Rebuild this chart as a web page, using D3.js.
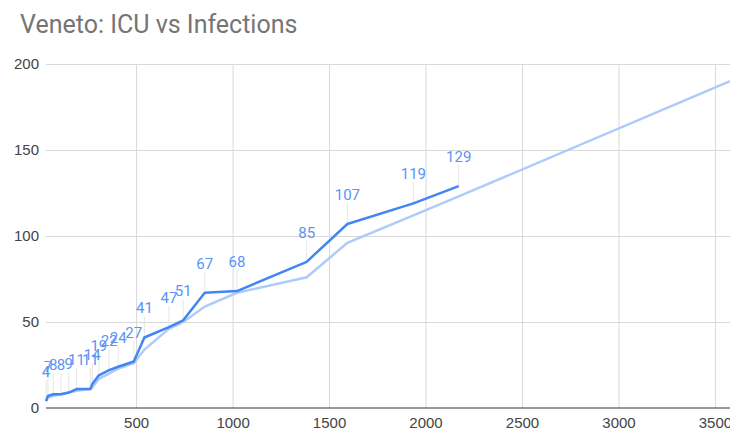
<!DOCTYPE html>
<html>
<head>
<meta charset="utf-8">
<script src="https://cdn.jsdelivr.net/npm/d3@7"></script>
<style>
  body { margin: 0; background: #fff; }
  svg { font-family: Roboto, Arial, sans-serif; }
  .grid line { stroke: #d9d9d9; }
  .grid path { display: none; }
  .tick text { fill: #444; font-size: 15px; }
</style>
</head>
<body>
<svg width="730" height="435"></svg>
<script>
// total infections (x) and ICU patients
var infections = [33, 43, 71, 111, 151, 191, 263, 273, 307, 360, 407, 488, 543, 670, 744, 856, 1023, 1384, 1595, 1937, 2172, 3578];
var icu = [4, 7, 8, 8, 9, 11, 11, 14, 19, 22, 24, 27, 41, 47, 51, 67, 68, 85, 107, 119, 129, null];
var icuTrend = [4, 6, 7, 8, 9, 10, 11, 12, 17, 20, 23, 26, 34, 46, 50, 59, 67, 76, 96, 112, 123, 190];
var xTicks = [500, 1000, 1500, 2000, 2500, 3000, 3500];
var yTicks = [0, 50, 100, 150, 200];

var svg = d3.select("svg");
var plotLeft = 46, plotRight = 730, plotTop = 64, plotBottom = 408;

var x = d3.scaleLinear().domain([33, 3578]).range([plotLeft, plotRight]);
var y = d3.scaleLinear().domain([0, 200]).range([plotBottom, plotTop]);

svg.append("text")
  .attr("x", 20).attr("y", 33)
  .attr("fill", "#757575")
  .style("font-size", "25px")
  .text("Veneto: ICU vs Infections");

// gridlines
svg.append("g")
  .attr("class", "grid")
  .attr("transform", "translate(0," + plotBottom + ")")
  .call(d3.axisBottom(x).tickValues(xTicks).tickSize(-(plotBottom - plotTop)).tickFormat(""));

svg.append("g")
  .attr("class", "grid")
  .attr("transform", "translate(" + plotLeft + ",0)")
  .call(d3.axisLeft(y).tickValues(yTicks.slice(1)).tickSize(-(plotRight - plotLeft)).tickFormat(""));

// tick labels
var xa = svg.append("g")
  .attr("transform", "translate(0," + plotBottom + ")")
  .call(d3.axisBottom(x).tickValues(xTicks).tickSize(0).tickPadding(9).tickFormat(d3.format("d")));
xa.select(".domain").remove();

var ya = svg.append("g")
  .attr("transform", "translate(" + plotLeft + ",0)")
  .call(d3.axisLeft(y).tickValues(yTicks).tickSize(0).tickPadding(7).tickFormat(d3.format("d")));
ya.select(".domain").remove();

var pts = infections.map(function(d, i) {
  return { x: d, icu: icu[i], trend: icuTrend[i] };
});

var trendLine = d3.line()
  .x(function(d) { return x(d.x); })
  .y(function(d) { return y(d.trend); });

var icuLine = d3.line()
  .defined(function(d) { return d.icu != null; })
  .x(function(d) { return x(d.x); })
  .y(function(d) { return y(d.icu); });

// annotation stems
var labelled = pts.filter(function(d) { return d.icu != null; });
svg.append("g")
  .selectAll("line")
  .data(labelled)
  .enter().append("line")
  .attr("x1", function(d) { return x(d.x); })
  .attr("x2", function(d) { return x(d.x); })
  .attr("y1", function(d) { return y(d.icu); })
  .attr("y2", function(d) { return y(d.icu) - 21; })
  .attr("stroke", "#e6e6e6")
  .attr("stroke-width", 1);

svg.append("path")
  .datum(pts)
  .attr("fill", "none")
  .attr("stroke", "#aecbfa")
  .attr("stroke-width", 2.5)
  .attr("d", trendLine);

svg.append("path")
  .datum(pts)
  .attr("fill", "none")
  .attr("stroke", "#4285f4")
  .attr("stroke-width", 2.5)
  .attr("stroke-linejoin", "round")
  .attr("d", icuLine);

// baseline
svg.append("line")
  .attr("x1", plotLeft).attr("x2", plotRight)
  .attr("y1", plotBottom).attr("y2", plotBottom)
  .attr("stroke", "#333")
  .attr("stroke-width", 1);

svg.append("g")
  .selectAll("text")
  .data(labelled)
  .enter().append("text")
  .attr("x", function(d) { return x(d.x); })
  .attr("y", function(d) { return y(d.icu) - 24; })
  .attr("text-anchor", "middle")
  .attr("fill", "#5a94f5")
  .style("font-size", "15px")
  .text(function(d) { return d.icu; });
</script>
</body>
</html>
